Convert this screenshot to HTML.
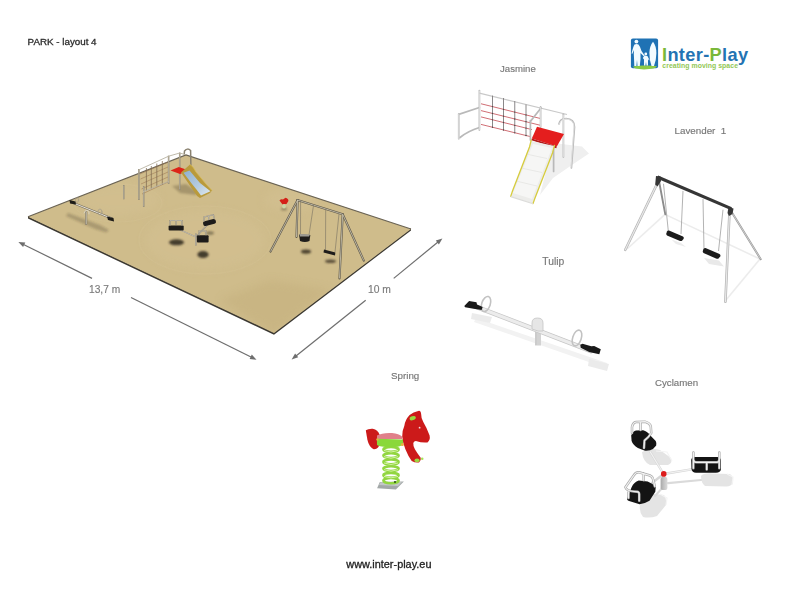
<!DOCTYPE html>
<html><head><meta charset="utf-8">
<style>
html,body{margin:0;padding:0;background:#fff;width:800px;height:616px;overflow:hidden}
svg{position:absolute;left:0;top:0;display:block;filter:blur(0.3px)}
.txt{will-change:transform}
text{font-family:"Liberation Sans",sans-serif}
</style></head>
<body>
<svg width="800" height="616" viewBox="0 0 800 616">
<rect width="800" height="616" fill="#fff"/>

<!-- ===== MAIN PLAYGROUND ===== -->
<g id="park">
  <defs>
    <filter id="bl1" x="-50%" y="-50%" width="200%" height="200%"><feGaussianBlur stdDeviation="1.2"/></filter>
    <filter id="bl2" x="-50%" y="-50%" width="200%" height="200%"><feGaussianBlur stdDeviation="4"/></filter>
    <filter id="bl05" x="-50%" y="-50%" width="200%" height="200%"><feGaussianBlur stdDeviation="0.5"/></filter>
    <clipPath id="sandclip"><polygon points="28,216.8 186,155 411,229 274,333"/></clipPath>
  </defs>
  <!-- slab side (dark border) -->
  <polygon points="28,216.3 274,332.3 411,228.3 411,230.4 274,334.8 28,218.4" fill="#3b3832"/>
  <!-- sand surface -->
  <polygon points="28,216.8 186,155 411,229 274,333" fill="#cfbc8b"/>
  <g clip-path="url(#sandclip)">
    <g fill="#d6c396" opacity="0.35" filter="url(#bl2)">
      <ellipse cx="205" cy="240" rx="60" ry="30"/>
      <ellipse cx="120" cy="200" rx="40" ry="16"/>
      <ellipse cx="292" cy="200" rx="28" ry="12"/>
    </g>
    <g fill="#c2ad7a" opacity="0.45" filter="url(#bl2)">
      <polygon points="220,300 274,334 330,290 270,280"/>
    </g>
    <g fill="none" stroke="#d8c699" stroke-width="1.5" opacity="0.22" filter="url(#bl05)">
      <ellipse cx="205" cy="240" rx="66" ry="34"/>
      <ellipse cx="118" cy="203" rx="44" ry="19"/>
    </g>
  </g>
  <polyline points="28,216.8 186,155 411,229" fill="none" stroke="#6a6354" stroke-width="1.2"/>

  <!-- shadows -->
  <g fill="#3d3526" filter="url(#bl1)">
    <ellipse cx="176.5" cy="242.3" rx="7.5" ry="3" opacity="0.95"/>
    <ellipse cx="203" cy="254.5" rx="5.6" ry="3.6" opacity="0.95"/>
    <ellipse cx="306" cy="251.6" rx="5" ry="2.2" opacity="0.9"/>
    <ellipse cx="330.5" cy="261.2" rx="5.5" ry="1.8" opacity="0.8"/>
    <ellipse cx="284" cy="209" rx="3" ry="1.5" opacity="0.4"/>
    <ellipse cx="210" cy="233" rx="4" ry="1.8" opacity="0.5"/>
    <polygon points="68,213 100,225 109,230 106,232.5 95,229 66,216" opacity="0.25"/>
  </g>

  <!-- seesaw -->
  <g stroke-linecap="round" fill="none">
    <line x1="86.2" y1="212" x2="86.2" y2="224" stroke="#766e5e" stroke-width="2"/>
    <line x1="86.2" y1="212" x2="86.2" y2="224" stroke="#d8d2c0" stroke-width="0.9"/>
    <line x1="72" y1="202.5" x2="112" y2="218.5" stroke="#7a7262" stroke-width="2"/>
    <line x1="72" y1="202.5" x2="112" y2="218.5" stroke="#e4e0d4" stroke-width="1"/>
    <path d="M84,213 Q85,209.5 88,210.5 Q89.5,211.5 89,214" stroke="#d8d2c0" stroke-width="1"/>
    <ellipse cx="100" cy="212" rx="2" ry="3" stroke="#a49c8a" stroke-width="0.7"/>
    <ellipse cx="77" cy="200" rx="1.6" ry="2.4" stroke="#a49c8a" stroke-width="0.6"/>
  </g>
  <polygon points="69.5,200 75.5,201.5 76,204.5 70,203.5" fill="#1e1c18"/>
  <polygon points="107,216.5 113.5,218 114,221.5 108,220" fill="#1e1c18"/>

  <!-- climbing net frame + slide -->
  <g fill="#4a3d28" opacity="0.3" filter="url(#bl1)">
    <polygon points="172,186 186,184 198,192 196,195 180,193"/>
  </g>
  <g stroke="#9c7650" stroke-width="0.7" fill="none" opacity="0.75">
    <line x1="140" y1="174" x2="168" y2="162"/>
    <line x1="140.5" y1="179" x2="168" y2="167"/>
    <line x1="141" y1="184" x2="168" y2="172"/>
    <line x1="141.5" y1="189" x2="168" y2="177"/>
    <line x1="142" y1="194" x2="168" y2="182"/>
  </g>
  <g stroke="#7d6a52" stroke-width="0.75" fill="none">
    <line x1="146.4" y1="168" x2="146.4" y2="191"/>
    <line x1="151.3" y1="166" x2="151.3" y2="189"/>
    <line x1="156.8" y1="163.5" x2="156.8" y2="187"/>
    <line x1="162.3" y1="161" x2="162.3" y2="185"/>
  </g>
  <g stroke="#8a8270" stroke-width="1.5" fill="none">
    <line x1="123.75" y1="185" x2="123.75" y2="199.3"/>
    <line x1="138.9" y1="169" x2="138.9" y2="200"/>
    <line x1="143.7" y1="186" x2="143.7" y2="207"/>
    <line x1="168.6" y1="155.7" x2="168.6" y2="184"/>
    <line x1="179.7" y1="152.6" x2="179.7" y2="190"/>
    <path d="M184.2,154.5 L184.5,151 Q187.5,147.5 190.6,150.5 L190.9,166.4"/>
  </g>
  <g stroke="#b8b2a2" stroke-width="0.9" fill="none">
    <line x1="138.9" y1="169.8" x2="168.6" y2="156.2"/>
    <line x1="168.6" y1="156.2" x2="179.7" y2="153"/>
    <line x1="179.7" y1="153" x2="185" y2="154.5"/>
    <line x1="143" y1="191.8" x2="168.6" y2="181.4"/>
  </g>
  <g stroke="#cdc6b0" stroke-width="0.6" fill="none">
    <line x1="123.75" y1="185.5" x2="123.75" y2="199"/>
    <line x1="138.9" y1="169.5" x2="138.9" y2="199.5"/>
    <line x1="143.7" y1="186.5" x2="143.7" y2="206.5"/>
    <line x1="168.6" y1="156.2" x2="168.6" y2="183.5"/>
    <line x1="179.7" y1="153" x2="179.7" y2="189.5"/>
  </g>
  <polygon points="170.5,170.4 178.8,167 189,170.4 180,173.9" fill="#dc2418"/>
  <!-- slide -->
  <defs>
    <linearGradient id="chute" x1="0" y1="0" x2="1" y2="1">
      <stop offset="0" stop-color="#8fb0cf"/>
      <stop offset="0.6" stop-color="#b7cde0"/>
      <stop offset="1" stop-color="#dfe8ee"/>
    </linearGradient>
  </defs>
  <path d="M181,172.5 L190,164.5 Q193,166 196,172 L206,184 L212,190.5 L210,193 L200,198 Q197,197 195,193 Z" fill="#b99a3c"/>
  <path d="M183.5,172.8 L189.5,170.5 Q195,177 200,183 L210.5,191.2 L201,195.5 Q197,190 192,184 Z" fill="url(#chute)"/>
  <path d="M190,164.5 Q193,166 196,172 L206,184 L212,190.5" fill="none" stroke="#d8bd55" stroke-width="0.8"/>

  <!-- carousel -->
  <g stroke-linecap="round" fill="none">
    <line x1="176" y1="228" x2="196" y2="237" stroke="#8a8272" stroke-width="1.3"/>
    <line x1="196" y1="237" x2="209" y2="223" stroke="#8a8272" stroke-width="1.3"/>
    <line x1="176" y1="228" x2="196" y2="237" stroke="#e0dccf" stroke-width="0.6"/>
    <line x1="196" y1="237" x2="209" y2="223" stroke="#e0dccf" stroke-width="0.6"/>
    <line x1="195.9" y1="234" x2="195.9" y2="245" stroke="#8a8272" stroke-width="1.6"/>
    <line x1="195.9" y1="234" x2="195.9" y2="245" stroke="#d6d0c0" stroke-width="0.7"/>
  </g>
  <rect x="168.6" y="225.4" width="15.1" height="5" rx="1" fill="#1e1c1a"/>
  <path d="M170,225.5 V220.5 H182 V225.5 M176,220.5 V225" stroke="#7f7868" stroke-width="1.2" fill="none"/>
  <path d="M170,225.5 V220.5 H182 V225.5 M176,220.5 V225" stroke="#e6e2d6" stroke-width="0.5" fill="none"/>
  <rect x="203" y="220" width="13" height="5" rx="2" fill="#1e1c1a" transform="rotate(-14 209.5 222.5)"/>
  <g transform="rotate(-4 209.5 222.5)" fill="none">
    <path d="M204,221 L204.5,216.5 L214,215 L214.5,219.5 M209,216 V220" stroke="#7f7868" stroke-width="1.2"/>
    <path d="M204,221 L204.5,216.5 L214,215 L214.5,219.5 M209,216 V220" stroke="#e6e2d6" stroke-width="0.5"/>
  </g>
  <rect x="196.9" y="235.2" width="11.7" height="7.3" rx="1" fill="#1e1c1a"/>
  <path d="M199,235.2 V231 H206 V235.2" stroke="#7f7868" stroke-width="1.2" fill="none"/>
  <path d="M199,235.2 V231 H206 V235.2" stroke="#e6e2d6" stroke-width="0.5" fill="none"/>

  <!-- swings -->
  <g stroke="#5f594b" stroke-width="2.1" fill="none" stroke-linecap="round">
    <line x1="297.3" y1="200" x2="342.7" y2="214.3"/>
    <line x1="297.6" y1="200" x2="270.5" y2="251.6"/>
    <line x1="297.6" y1="200" x2="296.5" y2="237"/>
    <line x1="342.7" y1="214.3" x2="363.8" y2="260.6"/>
    <line x1="342.7" y1="214.3" x2="339.5" y2="278.4"/>
  </g>
  <g stroke="#d2cbb6" stroke-width="0.8" fill="none">
    <line x1="297.3" y1="200" x2="342.7" y2="214.3"/>
    <line x1="297.6" y1="200" x2="270.5" y2="251.6"/>
    <line x1="297.6" y1="200" x2="296.5" y2="237"/>
    <line x1="342.7" y1="214.3" x2="363.8" y2="260.6"/>
    <line x1="342.7" y1="214.3" x2="339.5" y2="278.4"/>
  </g>
  <g stroke="#6f6a5e" stroke-width="0.55" fill="none">
    <line x1="300.6" y1="201" x2="300.5" y2="235"/>
    <line x1="313.5" y1="205.4" x2="309" y2="235"/>
    <line x1="325.7" y1="209.5" x2="325.5" y2="251"/>
    <line x1="339" y1="214" x2="335" y2="252"/>
  </g>
  <path d="M299,234.5 L310.3,235 L309.5,241 Q305,243 300,241 Z" fill="#1f1d1b"/>
  <path d="M299.3,234 L310,234.5 L309,236.5 L300,236.5 Z" fill="#9c9a94"/>
  <polygon points="324,249.5 335.4,252.5 335,255.5 323.5,252.5" fill="#1f1d1b"/>

  <!-- spring horse small -->
  <path d="M279.5,200.5 Q281,198.5 283,199.5 L285.5,197.8 Q288.5,198.5 288.4,201 L286.5,204 L282.5,204.5 Z" fill="#d42018"/>
  <ellipse cx="284" cy="206.3" rx="1.8" ry="2.2" fill="#c9d6a6"/>
</g>

<!-- ===== LOGO ===== -->
<g id="logo">
  <rect x="630.9" y="38.6" width="27.2" height="29.6" rx="2" fill="#1f72b4"/>
  <path d="M633,66.5 Q640,65.2 645,65.5 Q652,65.2 657,66.3 Q656,69 644,69.4 Q633,69 633,66.5 Z" fill="#8ccb45"/>
  <circle cx="636.4" cy="41.6" r="1.9" fill="#f2fbff"/>
  <path d="M634.5,44.5 Q636.5,43.5 638.5,44.5 Q640.5,47 641.5,51 L644.8,55.8 L644,56.6 L640.5,53 L640.5,59 L639.8,66 L637.5,66 L637,60 L636.4,66 L634.3,66 L634,58 Q633.6,54 634,50 L632.2,54 L631.6,53.5 Q633,47 634.5,44.5 Z" fill="#f2fbff"/>
  <circle cx="645.8" cy="54" r="1.4" fill="#f2fbff"/>
  <path d="M644.2,56 Q645.8,55.3 647.4,56 L649.5,60 L649,60.5 L648,59 L648,65.5 L646.5,65.5 L646,62 L645.4,65.5 L644,65.5 L644,59.5 L642.8,58 Z" fill="#f2fbff"/>
  <path d="M653,41.8 Q656.3,46 656.4,53 Q656.3,60 654,66 L651.5,66 Q649.4,60 649.4,53 Q649.6,46 653,41.8 Z" fill="#f2fbff"/>
  <text x="662" y="61.3" font-size="18.2" font-weight="bold" fill="#2373b3" letter-spacing="0.35"><tspan fill="#7ab83a">I</tspan>nter-<tspan fill="#7ab83a">P</tspan>lay</text>
  <text x="662.3" y="67.8" font-size="6.9" font-weight="bold" fill="#92c755" letter-spacing="0.05">creating moving space</text>
</g>

<!-- ===== JASMINE ===== -->
<g id="jasmine">
  <!-- shadow -->
  <polygon points="553,143 582,146.4 589,153.6 573,164.3 553,178 540,195" fill="#efefef" filter="url(#bl05)"/>
  <!-- left frame -->
  <g stroke-linecap="round" fill="none">
    <g stroke="#b9b9b9" stroke-width="1.7">
      <line x1="458.75" y1="113.75" x2="458.75" y2="138.75"/>
      <line x1="458.75" y1="114.4" x2="479.4" y2="107.5"/>
      <path d="M460,137.5 Q468,131 479.4,127.5"/>
      <line x1="479.4" y1="90.6" x2="479.4" y2="130"/>
    </g>
    <g stroke="#ececec" stroke-width="0.7">
      <line x1="458.75" y1="114" x2="458.75" y2="138.5"/>
      <line x1="479.4" y1="91" x2="479.4" y2="129.5"/>
    </g>
  </g>
  <!-- net -->
  <line x1="479.4" y1="93.1" x2="567" y2="114.5" stroke="#c9c9c9" stroke-width="1.1"/>
  <g stroke="#c2424a" stroke-width="0.85" fill="none" opacity="0.9">
    <line x1="481" y1="103.75" x2="540" y2="118.4"/>
    <line x1="481" y1="110.6" x2="540" y2="125.2"/>
    <line x1="481" y1="116.9" x2="532" y2="129.6"/>
    <line x1="481" y1="124.4" x2="530" y2="136.5"/>
  </g>
  <g stroke="#7e7a7c" stroke-width="0.9" fill="none">
    <line x1="492.5" y1="95.6" x2="492.5" y2="127.5"/>
    <line x1="503.5" y1="98" x2="503.5" y2="130"/>
    <line x1="514.75" y1="101" x2="514.75" y2="133"/>
    <line x1="526" y1="104.5" x2="526" y2="136"/>
  </g>
  <g fill="#4a4446"><circle cx="492.5" cy="106.6" r="0.65"/><circle cx="503.5" cy="109.3" r="0.65"/><circle cx="514.75" cy="112.1" r="0.65"/><circle cx="526" cy="114.9" r="0.65"/><circle cx="492.5" cy="113.4" r="0.65"/><circle cx="503.5" cy="116.2" r="0.65"/><circle cx="514.75" cy="119.0" r="0.65"/><circle cx="526" cy="121.7" r="0.65"/><circle cx="492.5" cy="119.8" r="0.65"/><circle cx="503.5" cy="122.5" r="0.65"/><circle cx="514.75" cy="125.3" r="0.65"/><circle cx="526" cy="128.1" r="0.65"/><circle cx="492.5" cy="127.2" r="0.65"/><circle cx="503.5" cy="130.0" r="0.65"/><circle cx="514.75" cy="132.8" r="0.65"/><circle cx="526" cy="135.5" r="0.65"/></g>
  <g stroke-linecap="round" fill="none">
    <g stroke="#b9b9b9" stroke-width="1.7">
      <line x1="540.6" y1="106.9" x2="540.6" y2="127"/>
      <line x1="530.4" y1="121.4" x2="541" y2="108"/>
      <line x1="530.4" y1="120.5" x2="530.4" y2="140"/>
      <line x1="563.4" y1="114.3" x2="563.4" y2="157"/>
      <line x1="553.6" y1="145.5" x2="553.6" y2="171.4"/>
      <path d="M559,124 Q560,118.5 566,118.5 Q574.5,119 574.5,127 L571.4,167.9"/>
    </g>
    <g stroke="#eeeeee" stroke-width="0.7">
      <line x1="540.6" y1="107.5" x2="540.6" y2="126.5"/>
      <line x1="563.4" y1="115" x2="563.4" y2="156.5"/>
      <path d="M559.5,124 Q560.5,119 566,119 Q574,119.5 574,127 L571,167.5"/>
    </g>
  </g>
  <!-- platform -->
  <polygon points="537,126.8 564,134 556.8,146.4 531.8,138.4" fill="#e41e1e"/>
  <polygon points="531.8,138.4 556.8,146.4 556.3,148.2 531.5,140.2" fill="#b01818"/>
  <!-- slide -->
  <polygon points="531.25,141 554.5,146 533,203.6 510.7,196.4" fill="#ececea"/>
  <polygon points="533,144 552,148 532,199 513,193" fill="#f6f6f5"/>
  <g stroke="#e4e4e2" stroke-width="0.8" fill="none">
    <line x1="526" y1="154" x2="547" y2="158.5"/>
    <line x1="521" y1="168" x2="542" y2="172.5"/>
    <line x1="516" y1="181" x2="537" y2="186"/>
  </g>
  <g stroke="#d6cc3e" stroke-width="1.3" fill="none" stroke-linecap="round">
    <path d="M531.25,140.2 L529.5,147 L512.5,191 L510.7,196.4"/>
    <path d="M554.5,145.5 L552.5,153 L535,198 L533,203.6"/>
  </g>
  <line x1="510.7" y1="196.6" x2="533" y2="203.8" stroke="#dcdcda" stroke-width="1.2"/>
</g>

<!-- ===== LAVENDER ===== -->
<g id="lavender">
  <g stroke="#ececec" stroke-width="1.6" fill="none">
    <line x1="627" y1="249" x2="665" y2="214.4"/>
    <line x1="665" y1="214.4" x2="760" y2="259"/>
    <line x1="726" y1="300" x2="760" y2="259"/>
  </g>
  <polygon points="671.5,239.5 681,243 686,247 676,244" fill="#ececec"/>
  <polygon points="704,258 719,260.5 724,266.5 709,264" fill="#e9e9e9"/>
  <!-- back legs -->
  <line x1="659" y1="181" x2="665.3" y2="214.4" stroke="#8c8c8c" stroke-width="1.9" stroke-linecap="round"/>
  <line x1="731" y1="211" x2="760.7" y2="259.2" stroke="#9a9a9a" stroke-width="2" stroke-linecap="round"/>
  <line x1="731" y1="211" x2="760.7" y2="259.2" stroke="#d8d8d8" stroke-width="0.8"/>
  <!-- chains -->
  <g stroke="#9a9a9a" stroke-width="0.75" fill="none">
    <line x1="663.5" y1="183.8" x2="668.5" y2="233"/>
    <line x1="683" y1="190.9" x2="681" y2="234"/>
    <line x1="703" y1="199.1" x2="704" y2="250"/>
    <line x1="723" y1="209.7" x2="718.5" y2="251"/>
  </g>
  <!-- front legs -->
  <g stroke-linecap="round" fill="none">
    <line x1="657.5" y1="183" x2="625.3" y2="249.8" stroke="#b4b4b4" stroke-width="2.6"/>
    <line x1="657.5" y1="183" x2="625.3" y2="249.8" stroke="#e8e8e8" stroke-width="1.2"/>
    <line x1="729.5" y1="212" x2="725.4" y2="301.6" stroke="#b4b4b4" stroke-width="2.6"/>
    <line x1="729.5" y1="212" x2="725.4" y2="301.6" stroke="#e8e8e8" stroke-width="1.2"/>
  </g>
  <line x1="657.5" y1="177" x2="731.3" y2="208.6" stroke="#363636" stroke-width="3.2"/>
  <polygon points="656,176 660.5,176.5 661,181 657.5,186.5 655.2,184.5" fill="#363636"/>
  <polygon points="728.5,207 733.5,208.5 732.5,214 729,216 727.5,213" fill="#363636"/>
  <path d="M667,231.5 Q667.5,230.3 669,230.5 L683,236.5 Q684.5,237.5 683.5,239 L682,240.8 Q681,241.3 679.5,240.8 L667,235.5 Q666,234.5 666.3,233.5 Z" fill="#1c1c1c"/>
  <path d="M703.5,249 Q704,248 705.5,248 L719.5,254 Q721,255 720.2,256.5 L718.5,258.5 Q717.5,259 716,258.5 L703.5,253 Q702.5,252 702.8,251 Z" fill="#1c1c1c"/>
</g>

<!-- ===== TULIP ===== -->
<g id="tulip">
  <polygon points="476,318 607,363 606,368 474,322" fill="#f2f2f2"/>
  <polygon points="472,313 492,317 490,323 471,319" fill="#ebebeb"/>
  <polygon points="589,359 609,364 607,371 588,366" fill="#ebebeb"/>
  <rect x="535" y="322" width="6" height="23.5" fill="#d2d2d2"/>
  <line x1="536" y1="323" x2="536" y2="345" stroke="#bdbdbd" stroke-width="0.6"/>
  <line x1="471" y1="304.8" x2="591" y2="351" stroke="#c6c6c6" stroke-width="4.6" stroke-linecap="round"/>
  <line x1="471" y1="304.8" x2="591" y2="351" stroke="#ececec" stroke-width="3.2" stroke-linecap="round"/>
  <path d="M532,329 L532,323 Q532,318 537.5,318 Q543,318 543,323 L543,331 L538,331 Z" fill="#e6e6e6" stroke="#c4c4c4" stroke-width="0.8"/>
  <ellipse cx="486" cy="304" rx="4.3" ry="7.8" fill="none" stroke="#c2c2c2" stroke-width="1.6" transform="rotate(18 486 304)"/>
  <ellipse cx="577" cy="338" rx="4.3" ry="8.2" fill="none" stroke="#c2c2c2" stroke-width="1.6" transform="rotate(18 577 338)"/>
  <polygon points="464.3,305.9 469.1,301.1 476.5,302.2 477,304.5 482.7,307 481.6,309.9 473.6,308.75 465.1,307.3" fill="#1a1a1a"/>
  <polygon points="580.3,344.8 582.5,343.7 591.3,346.3 594.2,345.9 600.8,349.2 599.3,354.3 589.1,352.1 580.7,347.8" fill="#1a1a1a"/>
</g>

<!-- ===== SPRING ===== -->
<g id="spring">
  <polygon points="377.1,488.2 379.8,482 403.9,481.5 395.9,489.6" fill="#a3a8a8"/>
  <polygon points="379,485 380.5,482.3 402,482 398,486" fill="#c3c7c7"/>
  <g fill="none" stroke="#92d640" stroke-width="2.6">
    <ellipse cx="391" cy="449.4" rx="7.6" ry="2.4"/>
    <ellipse cx="391" cy="455.6" rx="7.6" ry="2.4"/>
    <ellipse cx="391" cy="461.9" rx="7.6" ry="2.4"/>
    <ellipse cx="391" cy="468.6" rx="7.6" ry="2.4"/>
    <ellipse cx="391" cy="475.3" rx="7.6" ry="2.4"/>
    <ellipse cx="391" cy="480.6" rx="7.6" ry="2.6"/>
  </g>
  <g fill="none" stroke="#d2f4a0" stroke-width="1">
    <path d="M384,450.5 Q391,453.5 398,450.5"/>
    <path d="M384,456.7 Q391,459.7 398,456.7"/>
    <path d="M384,463 Q391,466 398,463"/>
    <path d="M384,469.7 Q391,472.7 398,469.7"/>
    <path d="M384,476.4 Q391,479.4 398,476.4"/>
  </g>
  <circle cx="395" cy="482" r="0.9" fill="#1a3a10"/>
  <!-- tail -->
  <path d="M365.8,430.3 Q368,428.5 372.7,428.7 Q378,430 379.5,434.5 L379,446 Q377,449.5 373.7,449.3 Q369,447 367.4,439.8 Z" fill="#cc1a1a"/>
  <!-- seat -->
  <path d="M377,435.5 Q382,432.5 392,433 Q399,433.5 402,436.6 L402,439 L377,439 Z" fill="#e0808a"/>
  <path d="M376.9,438.8 L403.2,439.5 L403.2,445 Q398,447.5 390,447.2 Q380,447 377,445 Z" fill="#8ad83a"/>
  <circle cx="377.5" cy="439.5" r="1.2" fill="#d9b840"/>
  <!-- head/neck -->
  <path d="M419,410.8 Q413,412 409.6,415 Q405,420 404.3,426 Q402,431 402.2,436.6 Q403,444 405.4,449.3 Q408,456 411.7,460.9 Q415,463 419,462.5 Q421.5,460 420.7,457.7 Q417,453 414.9,449.3 Q413,446 413.3,443 Q414,441 415.9,440.9 Q422,443 427.5,442.4 Q430.5,440 429.6,435.6 Q427,428 423.3,421.9 Q421,418 421.2,414.5 Q421,411 419,410.8 Z" fill="#cc1a1a"/>
  <ellipse cx="412.7" cy="418.2" rx="3.2" ry="2" fill="#9ad840" transform="rotate(-20 412.7 418.2)"/>
  <circle cx="419.6" cy="427.7" r="0.9" fill="#f6dede"/>
  <circle cx="402.4" cy="444.6" r="1.5" fill="#e8b040"/>
  <ellipse cx="417" cy="460.4" rx="2.6" ry="1.8" fill="#9ad840"/>
  <circle cx="422.2" cy="458.8" r="1.3" fill="#a8e058"/>
</g>

<!-- ===== CYCLAMEN ===== -->
<g id="cyclamen">
  <!-- shadows -->
  <g fill="#e4e4e4">
    <path d="M642,452 Q650,447 660,450 L671,458 Q673,463 668,465 L650,465 Q643,462 642,452 Z"/>
    <path d="M701,476 Q703,473 712,473.4 L730,474 Q734,477 733,483 Q731,486.5 726,486.4 L705,486 Q701,483 701,476 Z"/>
    <path d="M640,505 Q643,496 652,493.75 L664,495 Q667,499 666,505 L657,516 Q650,518.5 643,517 Q639,512 640,505 Z"/>
  </g>
  <g stroke="#f4f4f4" stroke-width="1.2" fill="none">
    <path d="M656,451 L667,452 L672,461"/>
    <path d="M727,474 L733,477 L732,485"/>
    <path d="M660,494 L667,498 L666,505"/>
  </g>
  <!-- arms -->
  <g stroke-linecap="round" fill="none">
    <line x1="663.6" y1="474" x2="650" y2="451.5" stroke="#d6d6d6" stroke-width="2.4"/>
    <line x1="663.6" y1="474" x2="650" y2="451.5" stroke="#f2f2f2" stroke-width="1.2"/>
    <line x1="663.6" y1="474" x2="691.4" y2="469.4" stroke="#d6d6d6" stroke-width="2.4"/>
    <line x1="663.6" y1="474" x2="691.4" y2="469.4" stroke="#f2f2f2" stroke-width="1.2"/>
    <line x1="663.6" y1="474" x2="652" y2="483" stroke="#d6d6d6" stroke-width="2.4"/>
    <line x1="668" y1="483.2" x2="701" y2="480" stroke="#dadada" stroke-width="2.2"/>
    <line x1="664" y1="486" x2="655" y2="496" stroke="#dadada" stroke-width="2"/>
  </g>
  <defs><linearGradient id="cpost" x1="0" x2="1"><stop offset="0" stop-color="#a8a8a8"/><stop offset="0.5" stop-color="#c4c4c4"/><stop offset="1" stop-color="#dadada"/></linearGradient></defs>
  <rect x="660.6" y="477" width="6.8" height="13" rx="2" fill="url(#cpost)"/>
  <circle cx="663.75" cy="473.9" r="2.8" fill="#dc1c1c"/>
  <!-- seat 1 -->
  <path d="M631.2,435.5 Q633,431 636,430.6 L643.2,430.2 Q647,431 650.4,435.5 L655.7,440.9 Q656.8,443 656.2,445.4 L653,449 Q650,451 645,450.7 L637.9,448 Q633,445 631.6,440.9 Z" fill="#141414"/>
  <g fill="none" stroke-linecap="round" stroke-linejoin="round">
    <path d="M632,433 L632,427 Q633,422.5 636,422 L645,421.7 Q650,423 650.8,426.6 L651.25,433 Q649,437 644.5,440.5 L644,448 M640.5,422.5 L640.5,430" stroke="#a9a9a9" stroke-width="2.5"/>
    <path d="M632,433 L632,427 Q633,422.5 636,422 L645,421.7 Q650,423 650.8,426.6 L651.25,433 Q649,437 644.5,440.5 L644,448 M640.5,422.5 L640.5,430" stroke="#f2f2f2" stroke-width="1.2"/>
  </g>
  <!-- seat 2 -->
  <path d="M691.2,460 Q691.5,457 695,457 L717,457 Q721,457.3 721,461 L721,469 Q720.5,472.75 716,472.75 L696,472.75 Q692,472.5 691.5,469 Z" fill="#141414"/>
  <g fill="none" stroke-linecap="round" stroke-linejoin="round">
    <path d="M693.4,468.2 L693.4,452.5 M719.3,468.2 L719.3,452.5 M693.4,459.5 Q693.6,462.3 696.5,462.3 L716.5,462.3 Q719.3,462.3 719.3,459.5 M706.7,463 L706.7,469.4" stroke="#a9a9a9" stroke-width="2.5"/>
    <path d="M693.4,468.2 L693.4,452.5 M719.3,468.2 L719.3,452.5 M693.4,459.5 Q693.6,462.3 696.5,462.3 L716.5,462.3 Q719.3,462.3 719.3,459.5 M706.7,463 L706.7,469.4" stroke="#f2f2f2" stroke-width="1.2"/>
  </g>
  <!-- seat 3 -->
  <path d="M627.1,498.9 L631.6,487.3 Q634,482 638.75,480.6 L647.7,481.5 Q653,483.5 655.7,487.3 L655.3,491.8 L649.5,500.7 Q645,503.5 639.6,504.3 L630.7,501.6 Q627,500.5 627.1,498.9 Z" fill="#141414"/>
  <g fill="none" stroke-linecap="round" stroke-linejoin="round">
    <path d="M625.4,487.3 L634,475 Q636,472 639,472.3 L650,475.5 Q652.5,476.5 653,479 L654.8,486.4 M643.7,473.5 L643.7,480.2 M626,488.5 Q628,491 634,491.5 L637.9,491.8 Q639.2,492.5 639.2,494 L639.2,500.7 M628.5,491.8 L628.5,498" stroke="#a9a9a9" stroke-width="2.5"/>
    <path d="M625.4,487.3 L634,475 Q636,472 639,472.3 L650,475.5 Q652.5,476.5 653,479 L654.8,486.4 M643.7,473.5 L643.7,480.2 M626,488.5 Q628,491 634,491.5 L637.9,491.8 Q639.2,492.5 639.2,494 L639.2,500.7 M628.5,491.8 L628.5,498" stroke="#f2f2f2" stroke-width="1.2"/>
  </g>
</g>

<!-- dimension arrows -->
<g stroke="#6e6e6e" stroke-width="1.2" fill="none">
  <line x1="23" y1="244.2" x2="92" y2="278.4"/>
  <line x1="131" y1="297.5" x2="251" y2="357"/>
  <line x1="296" y1="356" x2="365.7" y2="300.3"/>
  <line x1="393.7" y1="278.4" x2="438" y2="242"/>
</g>
<g fill="#6e6e6e">
  <polygon points="18.4,241.9 23.1,247.0 25.3,242.6"/>
  <polygon points="256.5,359.7 251.8,354.6 249.6,359.0"/>
  <polygon points="291.6,359.4 298.2,357.3 295.1,353.4"/>
  <polygon points="442.4,238.4 438.9,244.5 435.8,240.6"/>
</g>

<!-- texts -->
<g class="txt" stroke-width="0.15">
  <text x="27.6" y="45.2" font-size="9.8" fill="#2c2c2c" stroke="#2c2c2c" stroke-width="0.3">PARK - layout 4</text>
  <text x="500" y="71.5" font-size="9.6" fill="#777" stroke="#777">Jasmine</text>
  <text x="674.5" y="134" font-size="9.8" fill="#777" stroke="#777" xml:space="preserve">Lavender  1</text>
  <text x="542.3" y="264.5" font-size="10.3" fill="#777" stroke="#777">Tulip</text>
  <text x="391" y="378.5" font-size="9.8" fill="#777" stroke="#777">Spring</text>
  <text x="655" y="386" font-size="9.7" fill="#777" stroke="#777">Cyclamen</text>
  <text x="346.3" y="568" font-size="10.9" fill="#222" stroke="#222" stroke-width="0.3">www.inter-play.eu</text>
  <text x="89" y="292.8" font-size="10.2" fill="#7a7a7a" stroke="#7a7a7a">13,7 m</text>
  <text x="368" y="292.8" font-size="10.3" fill="#7a7a7a" stroke="#7a7a7a">10 m</text>
</g>
</svg>
</body></html>
